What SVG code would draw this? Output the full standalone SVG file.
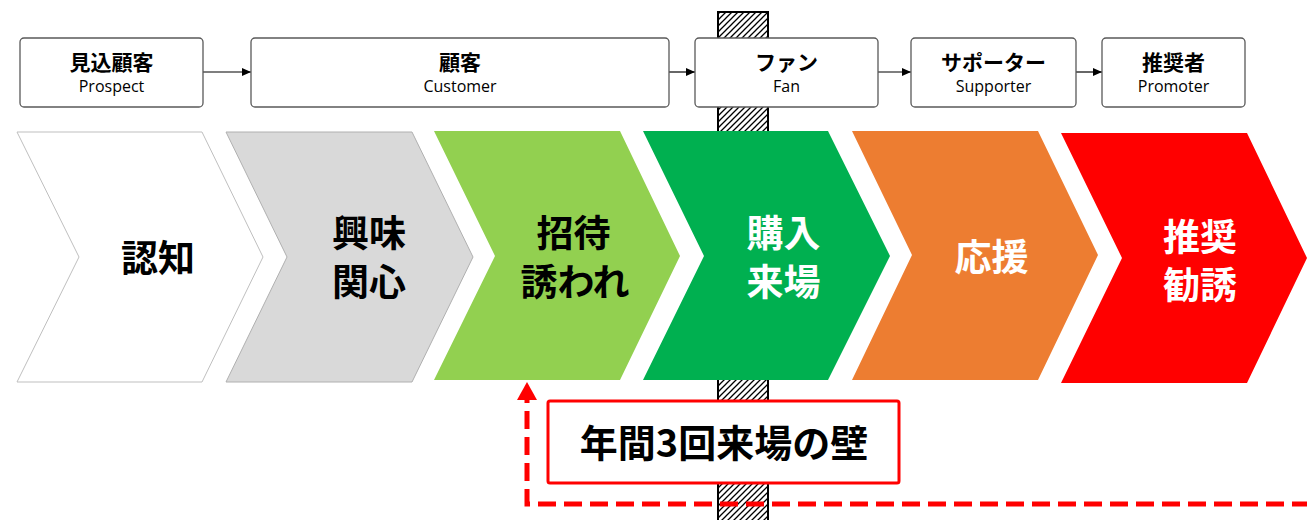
<svg xmlns="http://www.w3.org/2000/svg" width="1307" height="520" viewBox="0 0 1307 520">
<style>
.box{fill:#fff;stroke:#595959;stroke-width:1.3}
.jp{font-family:"Noto Sans CJK JP",sans-serif;font-weight:bold;font-size:21px;fill:#000;text-anchor:middle}
.en{font-family:"Open Sans","Noto Sans",sans-serif;font-size:16px;fill:#000;text-anchor:middle}
.big{font-family:"Noto Sans CJK JP",sans-serif;font-weight:600;font-size:37px;text-anchor:middle}
.conn{stroke:#000;stroke-width:1.2;fill:none}
</style>
<defs>
<pattern id="hatch" patternUnits="userSpaceOnUse" width="6" height="6">
<rect width="6" height="6" fill="#fff"/>
<path d="M-1,1 l2,-2 M0,6 l6,-6 M5,7 l2,-2" stroke="#000" stroke-width="1.3"/>
</pattern>
<marker id="ah" markerWidth="9" markerHeight="8" refX="9" refY="4" orient="auto" markerUnits="userSpaceOnUse">
<path d="M0,0 L9,4 L0,8 Z" fill="#000"/>
</marker>
</defs>
<g id="wall">
<rect x="718" y="12" width="50" height="520" fill="url(#hatch)" stroke="#000" stroke-width="2"/>
</g>
<g id="connectors">
<line class="conn" x1="203" y1="72" x2="251" y2="72" marker-end="url(#ah)"/>
<line class="conn" x1="669" y1="72" x2="695" y2="72" marker-end="url(#ah)"/>
<line class="conn" x1="878" y1="72" x2="911" y2="72" marker-end="url(#ah)"/>
<line class="conn" x1="1076" y1="72" x2="1102" y2="72" marker-end="url(#ah)"/>
</g>
<g id="n-prospect"><rect class="box" x="20" y="38" width="183" height="69" rx="4"/><text class="jp" x="111.5" y="70">見込顧客</text><text class="en" x="111.5" y="92">Prospect</text></g>
<g id="n-customer"><rect class="box" x="251" y="38" width="418" height="69" rx="4"/><text class="jp" x="460" y="70">顧客</text><text class="en" x="460" y="92">Customer</text></g>
<g id="n-fan"><rect class="box" x="695" y="38" width="183" height="69" rx="4"/><text class="jp" x="786.5" y="70">ファン</text><text class="en" x="786.5" y="92">Fan</text></g>
<g id="n-supporter"><rect class="box" x="911" y="38" width="165" height="69" rx="4"/><text class="jp" x="993.5" y="70">サポーター</text><text class="en" x="993.5" y="92">Supporter</text></g>
<g id="n-promoter"><rect class="box" x="1102" y="38" width="143" height="69" rx="4"/><text class="jp" x="1173.5" y="70">推奨者</text><text class="en" x="1173.5" y="92">Promoter</text></g>
<g id="c-ninchi"><path d="M17,132 L202,132 L263,257 L202,382 L17,382 L79,257 Z" fill="#fff" stroke="#bfbfbf" stroke-width="1"/><text class="big" x="158" y="272" fill="#000">認知</text></g>
<g id="c-kyomi"><path d="M226,132 L412,132 L473,257 L412,382 L226,382 L287,257 Z" fill="#d9d9d9" stroke="#b0b0b0" stroke-width="1"/><text class="big" fill="#000"><tspan x="369" y="247">興味</tspan><tspan x="369" y="295.5">関心</tspan></text></g>
<g id="c-shotai"><path d="M434,131 L620,131 L680,256 L620,380 L434,380 L495,256 Z" fill="#92d050"/><text class="big" fill="#000"><tspan x="573.5" y="247">招待</tspan><tspan x="575" y="295.5">誘われ</tspan></text></g>
<g id="c-konyu"><path d="M643,131 L828,131 L890,256 L828,380 L643,380 L704,256 Z" fill="#00b050"/><text class="big" fill="#fff"><tspan x="783.5" y="247">購入</tspan><tspan x="783.5" y="295.5">来場</tspan></text></g>
<g id="c-oen"><path d="M852,131 L1038,131 L1098,255 L1038,380 L852,380 L912,255 Z" fill="#ed7d31"/><text class="big" fill="#fff" x="991.5" y="271">応援</text></g>
<g id="c-suisho"><path d="M1061,133 L1247,133 L1307,258 L1247,383 L1061,383 L1122,258 Z" fill="#ff0000"/><text class="big" fill="#fff"><tspan x="1200" y="251">推奨</tspan><tspan x="1200" y="299">勧誘</tspan></text></g>
<g id="n-wall-label"><rect x="548" y="401" width="351" height="82" rx="2" fill="#fff" stroke="#ff0000" stroke-width="3"/><text class="big" fill="#000" x="724" y="457" style="font-size:38px">年間3回来場の壁</text></g>
<g id="feedback">
<path d="M1310,504 L527,504 L527,398" fill="none" stroke="#ff0000" stroke-width="5" stroke-dasharray="18,8"/>
<path d="M517,400 L527,382 L537,400 Z" fill="#ff0000"/>
</g>
</svg>
